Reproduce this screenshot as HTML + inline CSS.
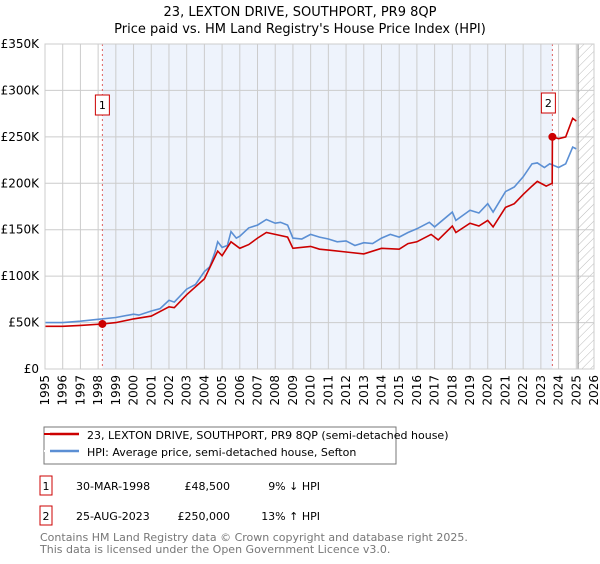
<!DOCTYPE html>
<html><head><meta charset="utf-8"><style>
body{margin:0;background:#fff;font-family:"DejaVu Sans","Liberation Sans",sans-serif;}
svg text{font-family:"DejaVu Sans","Liberation Sans",sans-serif;}
</style></head><body>
<svg id="c" width="600" height="560" xmlns="http://www.w3.org/2000/svg">
<defs><pattern id="hatch" width="6" height="6" patternUnits="userSpaceOnUse" patternTransform="rotate(45)"><line x1="0" y1="0" x2="0" y2="6" stroke="#bbb" stroke-width="1"/></pattern></defs>
<text x="300" y="16" text-anchor="middle" font-size="13" fill="#000">23, LEXTON DRIVE, SOUTHPORT, PR9 8QP</text>
<text x="300" y="33" text-anchor="middle" font-size="13" fill="#000">Price paid vs. HM Land Registry's House Price Index (HPI)</text>
<g id="plot"></g>
<rect x="44" y="427" width="352" height="37" fill="#fff" stroke="#777"/>
<line x1="44" y1="434" x2="79" y2="434" stroke="#cc0000" stroke-width="2" transform="translate(0,0)"/>
<line x1="50" y1="434" x2="79" y2="434" stroke="#cc0000" stroke-width="2.5"/>
<text x="87" y="439" font-size="11">23, LEXTON DRIVE, SOUTHPORT, PR9 8QP (semi-detached house)</text>
<line x1="44" y1="451" x2="79" y2="451" stroke="#fff" stroke-width="2"/>
<line x1="50" y1="451" x2="79" y2="451" stroke="#5b8fd4" stroke-width="2.5"/>
<text x="87" y="456" font-size="11">HPI: Average price, semi-detached house, Sefton</text>
<g>
<rect x="40" y="476" width="12" height="19" fill="#fff" stroke="#cc0000"/><text x="46" y="490" text-anchor="middle" font-size="11">1</text>
<text x="76" y="490" font-size="11">30-MAR-1998</text><text x="230" y="490" text-anchor="end" font-size="11">£48,500</text><text x="320" y="490" text-anchor="end" font-size="11">9% ↓ HPI</text></g>
<g>
<rect x="40" y="506" width="12" height="19" fill="#fff" stroke="#cc0000"/><text x="46" y="520" text-anchor="middle" font-size="11">2</text>
<text x="76" y="520" font-size="11">25-AUG-2023</text><text x="230" y="520" text-anchor="end" font-size="11">£250,000</text><text x="320" y="520" text-anchor="end" font-size="11">13% ↑ HPI</text></g>
<text x="40" y="541" font-size="11" fill="#777">Contains HM Land Registry data © Crown copyright and database right 2025.</text>
<text x="40" y="553" font-size="11" fill="#777">This data is licensed under the Open Government Licence v3.0.</text>
</svg>
<script>
const yTicks=[0,50,100,150,200,250,300,350];
const yTickLabels=["£0","£50K","£100K","£150K","£200K","£250K","£300K","£350K"];
const xYears=[1995,1996,1997,1998,1999,2000,2001,2002,2003,2004,2005,2006,2007,2008,2009,2010,2011,2012,2013,2014,2015,2016,2017,2018,2019,2020,2021,2022,2023,2024,2025,2026];
const hpiT=[1995,1996,1997,1998,1999,2000,2000.3,2001,2001.5,2002,2002.3,2003,2003.5,2004,2004.3,2004.6,2004.75,2005,2005.3,2005.5,2005.8,2006,2006.5,2007,2007.5,2008,2008.3,2008.7,2009,2009.5,2010,2010.5,2011,2011.5,2012,2012.5,2013,2013.5,2014,2014.5,2015,2015.5,2016,2016.7,2017,2018,2018.2,2019,2019.5,2020,2020.3,2021,2021.5,2022,2022.5,2022.8,2023.2,2023.5,2024,2024.4,2024.8,2025];
const hpiV=[50,50,51.5,53.5,55.5,59,58,62.5,65,74,72,86,91,105,110,126,137,131,133,148,141,143,152,155,161,157,158,155,141,140,145,142,140,137,138,133,136,135,141,145,142,147,151,158,153,169,160,171,168,178,169,191,196,207,221,222,217,221,217,221,239,237];
const priceT=[1995,1996,1997,1998.24,1999,2000,2001,2002,2002.3,2003,2004,2004.75,2005,2005.5,2006,2006.5,2007,2007.5,2008,2008.7,2009,2010,2010.5,2011,2012,2013,2014,2015,2015.5,2016,2016.8,2017.2,2018,2018.2,2019,2019.5,2020,2020.3,2021,2021.5,2022,2022.5,2022.8,2023.3,2023.64,2023.65,2024,2024.4,2024.8,2025];
const priceV=[46,46,47,48.5,50,54,57,67,66,80,97,127,122,137,130,134,141,147,145,142,130,132,129,128,126,124,130,129,135,137,145,139,154,147,157,154,160,153,174,178,188,197,202,197,200,250,248,250,270,267];
const saleT=[1998.24,2023.65];
const saleV=[48.5,250];
const L=45,R=594,T=44,B=369;
const xs=y=>L+(y-1995)*(R-L)/31;
const ys=v=>B-v*(B-T)/350;
const NS="http://www.w3.org/2000/svg";
const g=document.getElementById('plot');
function mk(tag,attrs,parent){const e=document.createElementNS(NS,tag);for(const k in attrs)e.setAttribute(k,attrs[k]);(parent||g).appendChild(e);return e;}
let e;
e=mk('rect',{x:xs(saleT[0]),y:T,width:xs(saleT[1])-xs(saleT[0]),height:B-T,fill:'#eef3fc'});


e=mk('rect',{x:xs(2025.1),y:T,width:R-xs(2025.1),height:B-T,fill:'url(#hatch)'});


xYears.forEach(y=>{
 e=mk('line',{x1:xs(y),x2:xs(y),y1:T,y2:B,stroke:'#ccc'});
 
 
 e=mk('text',{x:0,y:0,'font-size':12,'text-anchor':'end',transform:`translate(${xs(y)+4},${B+6}) rotate(-90)`});
 e.textContent=y;
 
 
});
yTicks.forEach((v,i)=>{
 e=mk('line',{x1:L,x2:R,y1:ys(v),y2:ys(v),stroke:'#ccc'});
 
 
 e=mk('text',{x:L-6,y:ys(v)+4,'font-size':12,'text-anchor':'end'});
 e.textContent=yTickLabels[i];
 
 
});
e=mk('line',{x1:xs(2025.1),x2:xs(2025.1),y1:T,y2:B,stroke:'#888'});


saleT.forEach((t,i)=>{
 e=mk('line',{x1:xs(t),x2:xs(t),y1:T,y2:B,stroke:'#e06060','stroke-dasharray':'2,3'});
 
 
});
const pts=(T_,V_)=>T_.map((t,i)=>xs(t).toFixed(1)+','+ys(V_[i]).toFixed(1)).join(' ');
e=mk('polyline',{points:pts(hpiT,hpiV),fill:'none',stroke:'#5b8fd4','stroke-width':1.6});


e=mk('polyline',{points:pts(priceT,priceV),fill:'none',stroke:'#cc0000','stroke-width':1.6});


saleT.forEach((t,i)=>{
 e=mk('circle',{cx:xs(t),cy:ys(saleV[i]),r:4,fill:'#cc0000'});
 
 
 const bx=xs(t)-7-(i?4:0), by=i?93:95;
 e=mk('rect',{x:bx,y:by,width:14,height:20,fill:'#fff',stroke:'#cc0000'});
 
 
 e=mk('text',{x:bx+7,y:by+14,'font-size':11,'text-anchor':'middle'});
 e.textContent=String(i+1);
 
 
});
e=mk('rect',{x:L,y:T,width:R-L,height:B-T,fill:'none',stroke:'#ccc'});
</script>
</body></html>
